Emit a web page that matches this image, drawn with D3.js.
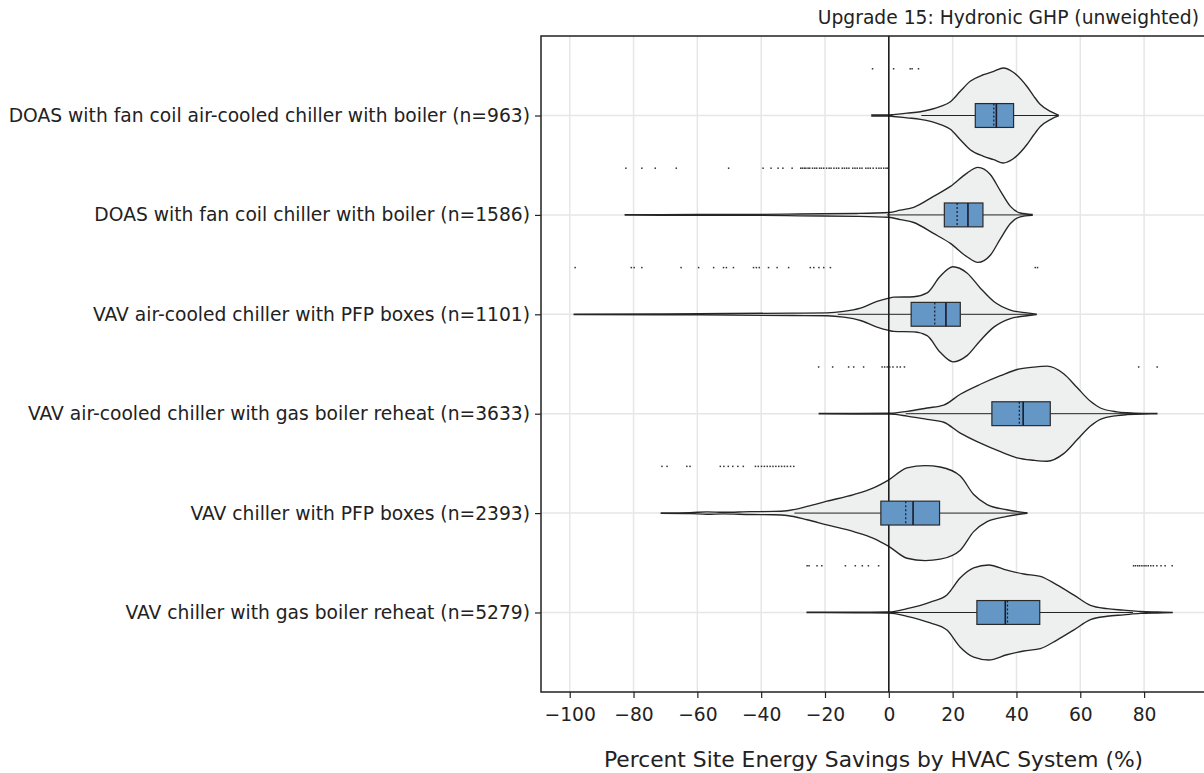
<!DOCTYPE html>
<html lang="en">
<head>
    <meta charset="UTF-8">
    <title>Upgrade 15: Hydronic GHP</title>
    <style>
        body {
            margin: 0;
            background: #fff;
            font-family: "DejaVu Sans", sans-serif;
        }
    </style>
</head>
<body>
<script src="https://cdn.jsdelivr.net/npm/d3@7"></script>
<script>

    var categories = [
        'DOAS with fan coil air-cooled chiller with boiler (n=963)',
        'DOAS with fan coil chiller with boiler (n=1586)',
        'VAV air-cooled chiller with PFP boxes (n=1101)',
        'VAV air-cooled chiller with gas boiler reheat (n=3633)',
        'VAV chiller with PFP boxes (n=2393)',
        'VAV chiller with gas boiler reheat (n=5279)'
    ];

    var xTicks = [-100, -80, -60, -40, -20, 0, 20, 40, 60, 80];

    // violin outlines: [savings %, relative density]
    var violin1 = [[-5.3, 0.01], [0, 0.01], [1.4, 0.02], [5.7, 0.05], [9.9, 0.08], [16.2, 0.19], [19.3, 0.29],
        [22.4, 0.51], [25.5, 0.72], [29.7, 0.86], [32.9, 0.93], [35.9, 1.0], [39.0, 0.91], [43.3, 0.61],
        [45.4, 0.41], [47.5, 0.23], [50.8, 0.08], [53.1, 0.01]];
    var violin2 = [[-82.6, 0.005], [-60, 0.008], [-40, 0.01], [-28, 0.02], [-10, 0.03], [0, 0.05], [3.6, 0.1],
        [7.8, 0.16], [14, 0.39], [19.3, 0.6], [24.5, 0.88], [27.9, 1.0], [31.8, 0.85], [35, 0.5],
        [38.1, 0.18], [41.2, 0.04], [44.9, 0.01]];
    var violin3 = [[-98.6, 0.005], [-70, 0.01], [-50, 0.017], [-30, 0.025], [-19.4, 0.03], [-14.2, 0.06],
        [-8.9, 0.13], [-3.7, 0.27], [0, 0.34], [1.5, 0.36], [7.8, 0.37], [12, 0.45], [16.1, 0.8], [20.1, 1.0],
        [24.5, 0.87], [28.7, 0.55], [32.9, 0.27], [38.1, 0.09], [43.3, 0.03], [46.2, 0.005]];
    var violin4 = [[-21.8, 0.004], [-10, 0.006], [0.5, 0.01], [5.7, 0.05], [12, 0.12], [17.2, 0.18],
        [22.4, 0.41], [28.7, 0.62], [35, 0.8], [40.2, 0.93], [45.4, 0.98], [49.6, 1.0], [54.8, 0.84],
        [59, 0.55], [63.2, 0.26], [66.3, 0.12], [71.5, 0.04], [74.7, 0.02], [80, 0.006], [84, 0.004]];
    var violin5 = [[-71.3, 0.004], [-62.2, 0.01], [-57, 0.025], [-51.9, 0.017], [-43.4, 0.03], [-36.1, 0.035],
        [-31.9, 0.05], [-25.6, 0.14], [-19.4, 0.25], [-11, 0.39], [-4.8, 0.53], [0, 0.7], [5.7, 0.95],
        [11.4, 1.0], [16.1, 0.97], [22.4, 0.78], [26.6, 0.39], [30.8, 0.18], [37, 0.07], [43.3, 0.004]];
    var violin6 = [[-25.6, 0.004], [-10, 0.006], [0, 0.01], [5.7, 0.08], [13, 0.22], [18.2, 0.37],
        [22.4, 0.73], [26.6, 0.94], [31.3, 1.0], [37, 0.89], [42.3, 0.81], [47.5, 0.76], [52.7, 0.58],
        [57.9, 0.37], [63.2, 0.15], [68.4, 0.08], [73.6, 0.05], [78.8, 0.02], [84.1, 0.01], [88.8, 0.004]];

    var q1 = [27.1, 17.4, 7.0, 32.3, -2.5, 27.6];
    var median = [33.7, 24.8, 17.9, 42.1, 7.6, 36.5];
    var q3 = [39.1, 29.5, 22.4, 50.6, 15.9, 47.3];
    var mean = [32.9, 21.4, 14.4, 40.9, 5.3, 37.2];
    var whiskerLow = [10.2, -0.6, -16.0, 5.3, -29.6, -2.4];
    var whiskerHigh = [52.7, 44.9, 45.3, 77.9, 43.3, 76.5];

    var outliers1 = [-5.1, 1.5, 6.7, 7.3, 9.3];
    var outliers2 = [-82.4, -77.4, -73.2, -66.6, -50.2, -39.4, -36.9, -34.7, -33.2, -30.3, -27.6, -27.1, -26.5,
        -26.0, -25.3, -24.8, -23.9, -23.2, -22.6, -21.7, -21.1, -20.4, -19.5, -18.7, -18.1, -17.2, -16.4, -15.7,
        -14.6, -13.9, -13.2, -12.5, -11.3, -10.6, -9.9, -9.1, -8.4, -7.2, -6.5, -5.8, -4.9, -3.9, -3.1, -2.4,
        -1.6, -0.9, -0.4];
    var outliers3 = [-98.3, -80.7, -79.8, -77.4, -65.1, -59.6, -54.9, -51.8, -50.9, -48.7, -42.4, -41.5, -40.6,
        -37.7, -35.0, -31.4, -24.6, -23.5, -21.9, -20.4, -18.3, 45.9, 46.6];
    var outliers4 = [-22.0, -17.6, -12.6, -11.0, -7.9, -2.1, -1.3, -0.5, 0.3, 1.3, 2.6, 3.6, 4.9, 78.3, 84.1];
    var outliers5 = [-71.1, -69.5, -63.3, -62.3, -52.8, -51.7, -50.3, -48.9, -47.3, -45.6, -41.8, -40.9, -39.9,
        -39.0, -38.1, -37.2, -36.3, -35.4, -34.5, -33.6, -32.7, -31.8, -30.8, -29.8];
    var outliers6 = [-25.6, -25.0, -22.5, -21.0, -13.6, -10.5, -8.3, -6.4, -3.2, 76.7, 77.3, 78.0, 78.6, 79.3,
        80.0, 80.6, 81.3, 82.1, 82.9, 84.0, 85.3, 86.6, 88.8];

    var violins = [violin1, violin2, violin3, violin4, violin5, violin6];
    var outliers = [outliers1, outliers2, outliers3, outliers4, outliers5, outliers6];

    var width = 1204,
        height = 773;
    var pLeft = 541, pRight = 1206, pTop = 36, pBottom = 692;

    var x = d3.scaleLinear()
        .domain([-109, 99.4])
        .range([pLeft, pRight]);

    var y = d3.scaleLinear()
        .domain([-0.8, 5.8])
        .range([pTop, pBottom]);

    var halfW = 0.478, boxH = 0.12, outlierOff = -0.47;

    var svg = d3.select('body').append('svg')
        .attr('width', width)
        .attr('height', height)
        .style('display', 'block');

    var plot = svg.append('g');

    plot.append('defs').append('clipPath')
        .attr('id', 'clip')
        .append('rect')
        .attr('x', pLeft)
        .attr('y', pTop)
        .attr('width', pRight - pLeft)
        .attr('height', pBottom - pTop);

    // grid
    plot.selectAll('.vgrid')
        .data(xTicks)
        .enter()
        .append('line')
        .attr('x1', d => x(d))
        .attr('x2', d => x(d))
        .attr('y1', pTop)
        .attr('y2', pBottom)
        .attr('stroke', '#e6e6e6')
        .attr('stroke-width', 1.5);

    plot.selectAll('.hgrid')
        .data(categories)
        .enter()
        .append('line')
        .attr('x1', pLeft)
        .attr('x2', pRight)
        .attr('y1', (d, i) => y(i))
        .attr('y2', (d, i) => y(i))
        .attr('stroke', '#e6e6e6')
        .attr('stroke-width', 1.5);

    var g = plot.append('g').attr('clip-path', 'url(#clip)');

    // violins
    violins.forEach(function (v, i) {
        var area = d3.area()
            .x(d => x(d[0]))
            .y0(d => y(i - d[1] * halfW))
            .y1(d => y(i + d[1] * halfW))
            .curve(d3.curveMonotoneX);

        g.append('path')
            .datum(v)
            .attr('d', area)
            .attr('fill', '#eeefef')
            .attr('stroke', '#262626')
            .attr('stroke-width', 1.35);
    });

    // zero line
    g.append('line')
        .attr('x1', x(0))
        .attr('x2', x(0))
        .attr('y1', pTop)
        .attr('y2', pBottom)
        .attr('stroke', '#111')
        .attr('stroke-width', 1.5);

    // whiskers
    g.selectAll('.whisker')
        .data(categories)
        .enter()
        .append('line')
        .attr('x1', (d, i) => x(whiskerLow[i]))
        .attr('x2', (d, i) => x(whiskerHigh[i]))
        .attr('y1', (d, i) => y(i))
        .attr('y2', (d, i) => y(i))
        .attr('stroke', '#222')
        .attr('stroke-width', 1);

    // boxes
    g.selectAll('.box')
        .data(categories)
        .enter()
        .append('rect')
        .attr('x', (d, i) => x(q1[i]))
        .attr('y', (d, i) => y(i - boxH))
        .attr('width', (d, i) => x(q3[i]) - x(q1[i]))
        .attr('height', (d, i) => y(i + boxH) - y(i - boxH))
        .attr('fill', '#6497c5')
        .attr('stroke', '#2a2a2a')
        .attr('stroke-width', 1.2);

    g.selectAll('.mean')
        .data(categories)
        .enter()
        .append('line')
        .attr('x1', (d, i) => x(mean[i]))
        .attr('x2', (d, i) => x(mean[i]))
        .attr('y1', (d, i) => y(i - boxH))
        .attr('y2', (d, i) => y(i + boxH))
        .attr('stroke', '#1a1a2a')
        .attr('stroke-width', 1.2)
        .attr('stroke-dasharray', '2,2');

    g.selectAll('.median')
        .data(categories)
        .enter()
        .append('line')
        .attr('x1', (d, i) => x(median[i]))
        .attr('x2', (d, i) => x(median[i]))
        .attr('y1', (d, i) => y(i - boxH))
        .attr('y2', (d, i) => y(i + boxH))
        .attr('stroke', '#1a1a2a')
        .attr('stroke-width', 1.6);

    // outliers
    outliers.forEach(function (o, i) {
        g.selectAll('.out' + i)
            .data(o)
            .enter()
            .append('rect')
            .attr('x', d => x(d) - 0.75)
            .attr('y', y(i + outlierOff) - 0.75)
            .attr('width', 1.5)
            .attr('height', 1.5)
            .attr('fill', '#333');
    });

    // frame
    plot.append('rect')
        .attr('x', pLeft)
        .attr('y', pTop)
        .attr('width', pRight - pLeft)
        .attr('height', pBottom - pTop)
        .attr('fill', 'none')
        .attr('stroke', '#222')
        .attr('stroke-width', 1.5);

    // axes
    var fmt = d => d3.format('')(d).replace('-', '\u2212');

    var xAxis = svg.append('g')
        .attr('transform', 'translate(0,' + pBottom + ')')
        .call(d3.axisBottom(x).tickValues(xTicks).tickSize(6).tickPadding(10).tickFormat(fmt));

    var yAxis = svg.append('g')
        .attr('transform', 'translate(' + pLeft + ',0)')
        .call(d3.axisLeft(y).tickValues(d3.range(categories.length)).tickSize(6).tickPadding(5)
            .tickFormat(i => categories[i]));

    [xAxis, yAxis].forEach(function (a) {
        a.select('.domain').remove();
        a.selectAll('line').attr('stroke', '#222').attr('stroke-width', 1.2);
        a.selectAll('text')
            .attr('fill', '#222')
            .attr('font-family', '"DejaVu Sans", sans-serif')
            .attr('font-size', 18.7);
    });

    svg.append('text')
        .attr('x', (pLeft + pRight) / 2)
        .attr('y', 767)
        .attr('text-anchor', 'middle')
        .attr('font-family', '"DejaVu Sans", sans-serif')
        .attr('font-size', 21.8)
        .attr('fill', '#222')
        .text('Percent Site Energy Savings by HVAC System (%)');

    svg.append('text')
        .attr('x', 1199)
        .attr('y', 24)
        .attr('text-anchor', 'end')
        .attr('font-family', '"DejaVu Sans", sans-serif')
        .attr('font-size', 18.7)
        .attr('fill', '#222')
        .text('Upgrade 15: Hydronic GHP (unweighted)');
</script>
</body>
</html>
